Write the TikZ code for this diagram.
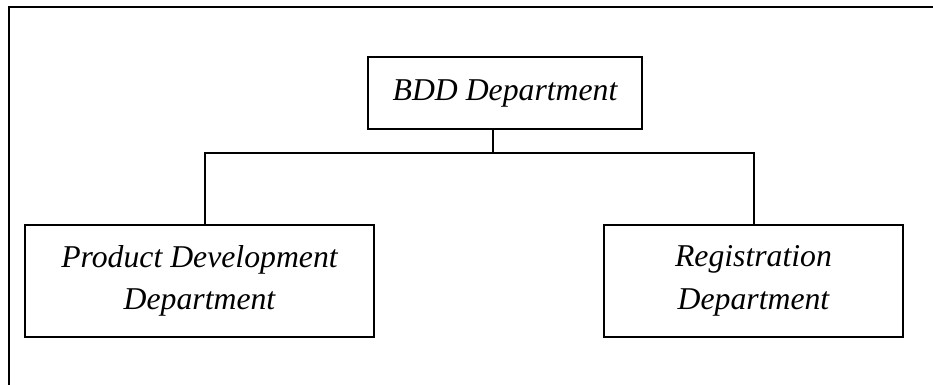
\documentclass[tikz,border=0pt]{standalone}
\usepackage{fontspec}
\setmainfont{Liberation Serif}
\begin{document}
\begin{tikzpicture}[x=0.75pt,y=-0.75pt,
  line width=1.4pt,
  dept/.style={draw, line width=1.6pt, inner sep=0pt, align=center,
    font=\fontsize{23.8}{32}\selectfont\itshape},
  link/.style={draw, line width=1.4pt}]
\useasboundingbox (0,0) rectangle (933,385);
% outer frame: top and left edges only
\coordinate (ftl) at (9,7);
\coordinate (ftr) at (933,7);
\coordinate (fbl) at (9,385);
\draw[line width=1.6pt] (fbl) -- (ftl) -- (ftr);
% department boxes
\node[dept, minimum width=274*0.75pt, minimum height=72*0.75pt] (bdd) at (505,93) {BDD Department};
\node[dept, minimum width=349*0.75pt, minimum height=112*0.75pt] (pdd) at (199.5,281) {Product Development\\Department};
\node[dept, minimum width=299*0.75pt, minimum height=112*0.75pt] (reg) at (753.5,281) {Registration\\Department};
% connectors
\coordinate (hub) at (493,153);
\coordinate (hl) at (205,153);
\coordinate (hr) at (754,153);
\draw[link] (bdd.south -| hub) -- (hub);
\draw[link] (pdd.north -| hl) -- (hl) -- (hr) -- (reg.north -| hr);
\end{tikzpicture}
\end{document}
